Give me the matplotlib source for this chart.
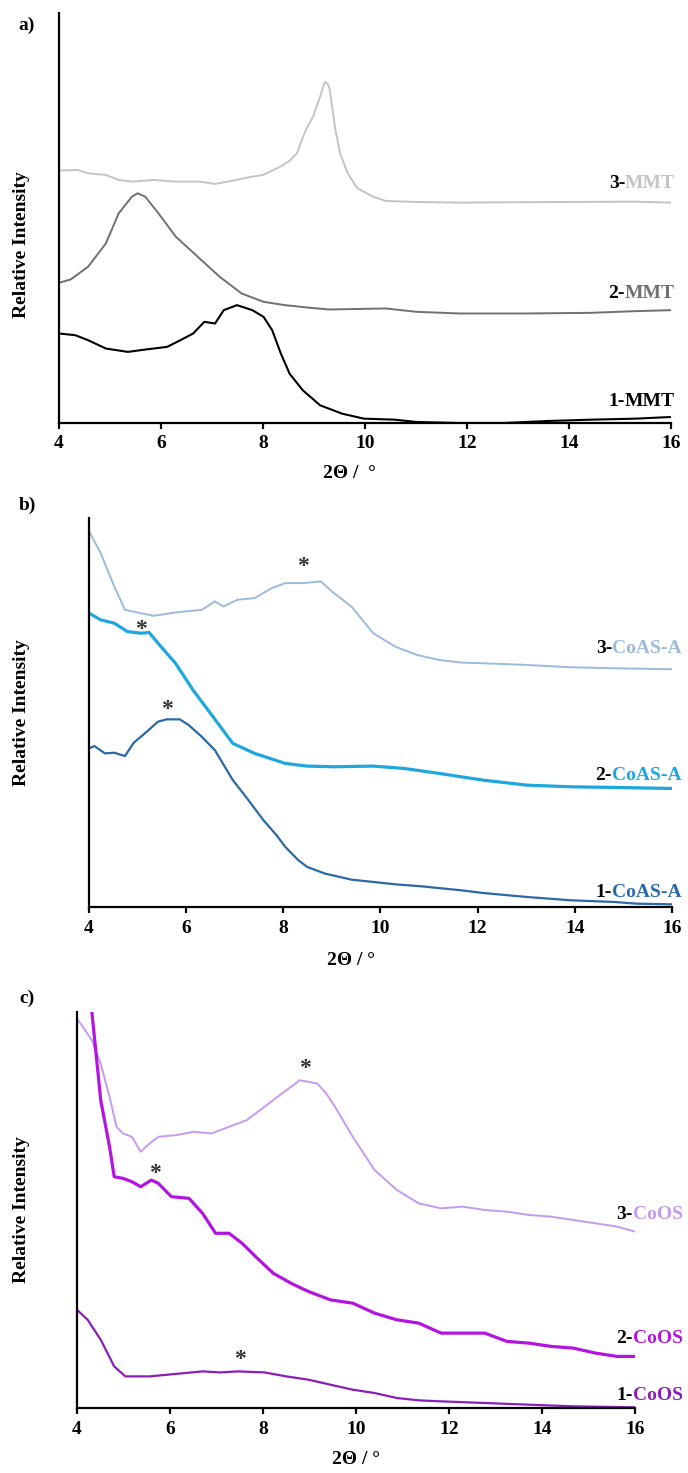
import matplotlib

matplotlib.use('Agg')
import matplotlib.pyplot as plt

plt.rcParams['font.family'] = ['Liberation Serif', 'DejaVu Serif']
plt.rcParams['font.weight'] = 'bold'

# ---------------- panel a) MMT ----------------
a3_x = [4.00, 4.36, 4.57, 4.92, 5.17, 5.43, 5.86, 6.29, 6.76, 7.06, 7.41, 7.75, 8.00, 8.33,
        8.53, 8.67, 8.76, 8.86, 8.98, 9.12, 9.18, 9.22, 9.27, 9.31, 9.41, 9.51, 9.65, 9.84,
        10.15, 10.41, 11.01, 11.86, 12.72, 14.01, 15.30, 16.00]
a3_y = [756, 758, 748, 743, 728, 723, 728, 723, 723, 716, 726, 737, 743, 767,
        786, 809, 848, 884, 917, 977, 1008, 1022, 1015, 998, 887, 809, 752, 704,
        678, 665, 662, 660, 661, 662, 663, 660]
a2_x = [4.00, 4.23, 4.57, 4.92, 5.17, 5.43, 5.54, 5.69, 5.95, 6.29, 6.72, 7.15, 7.58, 8.01,
        8.43, 8.86, 9.29, 10.41, 11.01, 11.86, 13.15, 14.44, 15.30, 16.00]
a2_y = [420, 430, 468, 538, 628, 678, 688, 678, 628, 558, 498, 438, 388, 363,
        353, 346, 340, 343, 333, 328, 328, 330, 335, 338]
a1_x = [4.00, 4.32, 4.57, 4.92, 5.35, 5.69, 6.12, 6.38, 6.63, 6.85, 7.06, 7.23, 7.49, 7.79,
        8.01, 8.18, 8.35, 8.52, 8.78, 9.12, 9.55, 9.98, 10.58, 11.01, 11.86, 12.72,
        13.58, 14.44, 15.30, 16.00]
a1_y = [268, 263, 248, 223, 213, 220, 228, 248, 268, 303, 298, 338, 353, 338,
        318, 278, 208, 148, 98, 53, 28, 13, 10, 3, 0, 0,
        6, 10, 13, 18]

# ---------------- panel b) CoAS-A ----------------
b3_x = [4.00, 4.24, 4.52, 4.74, 5.06, 5.33, 5.78, 6.32, 6.59, 6.77, 7.05, 7.41, 7.76, 8.04,
        8.40, 8.77, 9.04, 9.40, 9.85, 10.30, 10.75, 11.20, 11.66, 12.10, 13.00, 13.90,
        14.80, 16.00]
b3_y = [1125, 1060, 960, 890, 880, 872, 882, 890, 915, 900, 920, 925, 955, 970,
        970, 975, 940, 900, 820, 780, 755, 740, 732, 730, 725, 718,
        715, 712]
b2_x = [4.00, 4.24, 4.52, 4.79, 5.06, 5.24, 5.42, 5.78, 6.14, 6.50, 6.96, 7.41, 8.04, 8.49,
        9.04, 9.85, 10.48, 11.21, 12.11, 13.01, 13.92, 14.82, 16.00]
b2_y = [880, 860, 850, 825, 820, 822, 790, 730, 650, 580, 490, 460, 430, 422,
        420, 422, 415, 400, 380, 365, 360, 358, 355]
b1_x = [4.00, 4.11, 4.33, 4.52, 4.74, 4.92, 5.15, 5.42, 5.60, 5.87, 6.05, 6.32, 6.59, 6.96,
        7.23, 7.59, 7.86, 8.04, 8.31, 8.49, 8.86, 9.40, 9.85, 10.30, 10.84, 11.66,
        12.11, 13.01, 13.47, 13.92, 14.82, 15.27, 16.00]
b1_y = [475, 482, 460, 462, 452, 492, 520, 555, 562, 562, 545, 510, 470, 380,
        330, 260, 215, 180, 140, 120, 100, 82, 75, 68, 62, 50,
        42, 30, 25, 20, 15, 10, 8]

# ---------------- panel c) CoOS ----------------
c3_x = [4.00, 4.13, 4.32, 4.51, 4.70, 4.85, 4.99, 5.18, 5.37, 5.56, 5.75, 6.13, 6.51, 6.89,
        7.27, 7.65, 8.03, 8.31, 8.60, 8.79, 8.98, 9.17, 9.36, 9.55, 9.93, 10.40, 10.88,
        11.35, 11.83, 12.30, 12.77, 13.25, 13.72, 14.20, 14.67, 15.15, 15.62, 16.00]
c3_y = [1170, 1145, 1105, 1035, 935, 845, 825, 815, 770, 795, 815, 820, 830, 825,
        845, 865, 905, 935, 965, 985, 980, 975, 945, 905, 815, 715, 655,
        615, 600, 605, 595, 590, 580, 575, 565, 555, 545, 530]
c2_x = [4.28, 4.32, 4.51, 4.70, 4.80, 4.99, 5.18, 5.37, 5.60, 5.75, 6.03, 6.41, 6.70, 6.98,
        7.27, 7.55, 7.84, 8.22, 8.60, 8.98, 9.45, 9.93, 10.40, 10.88, 11.35, 11.83, 12.30,
        12.77, 13.25, 13.72, 14.20, 14.67, 15.15, 15.62, 16.00]
c2_y = [1400, 1190, 925, 785, 695, 690, 680, 665, 685, 675, 635, 630, 585, 525,
        525, 495, 455, 405, 375, 350, 325, 315, 285, 265, 255, 225, 225,
        225, 200, 195, 185, 180, 165, 155, 155]
c1_x = [4.00, 4.23, 4.51, 4.80, 5.04, 5.56, 5.94, 6.32, 6.70, 7.08, 7.46, 8.03, 8.50, 8.98,
        9.45, 9.93, 10.40, 10.88, 11.35, 11.83, 12.77, 13.72, 14.67, 16.00]
c1_y = [295, 265, 205, 125, 95, 95, 100, 105, 110, 107, 110, 107, 95, 85,
        70, 55, 45, 30, 23, 20, 15, 10, 5, 2]

xticks = [4, 6, 8, 10, 12, 14, 16]

W, H = 688, 1473
FS = 14
fig = plt.figure(figsize=(W / 100, H / 100), dpi=100)


def make_axes(left, right, top, bottom):
    # pixel box -> figure fraction
    return fig.add_axes([left / W, 1 - bottom / H, (right - left) / W, (bottom - top) / H])


def style(ax, ymax, xlab, xlab_pos):
    ax.set_xlim(4, 16)
    ax.set_ylim(0, ymax)
    ax.set_xticks(xticks)
    ax.set_yticks([])
    for s in ['top', 'right']:
        ax.spines[s].set_visible(False)
    for s in ['left', 'bottom']:
        ax.spines[s].set_linewidth(1.6)
    ax.tick_params(axis='x', direction='out', length=4, width=1.6, pad=5, labelsize=FS)
    for lab in ax.get_xticklabels():
        lab.set_fontweight('bold')
    ax.set_xlabel(xlab, fontsize=FS, fontweight='bold', va='center')
    ax.xaxis.set_label_coords(*xlab_pos)


def curve_label(ax, x, y, num, name, color):
    t = ax.text(x, y, name, color=color, fontsize=FS, fontweight='bold',
                ha='right', va='center', clip_on=False)
    ax.annotate(num, xy=(0, 0.5), xycoords=t, ha='right', va='center',
                fontsize=FS, fontweight='bold', color='black')


def star(ax, x, y):
    ax.text(x, y, '*', fontsize=17, fontweight='bold', ha='center', va='center', color='#333333')


# panel a
ax = make_axes(59, 671, 13, 423)
ax.plot(a3_x, a3_y, color='#c4c4c4', lw=1.4)
ax.plot(a2_x, a2_y, color='#707070', lw=1.4)
ax.plot(a1_x, a1_y, color='black', lw=1.5)
style(ax, 1228, '2Θ /  °', (0.475, -50 / 410))
curve_label(ax, 16.08, 718, '3-', 'MMT', '#c4c4c4')
curve_label(ax, 16.08, 388, '2-', 'MMT', '#707070')
curve_label(ax, 16.08, 63, '1-', 'MMT', 'black')

# panel b
ax = make_axes(89, 672, 518, 907)
ax.plot(b3_x, b3_y, color='#9dbadb', lw=1.4)
ax.plot(b2_x, b2_y, color='#1ea7de', lw=2.3)
ax.plot(b1_x, b1_y, color='#2a69a8', lw=1.6)
style(ax, 1165, '2Θ / °', (0.449, -53 / 389))
star(ax, 8.4, 1020)
star(ax, 5.06, 832)
star(ax, 5.6, 592)
curve_label(ax, 16.2, 775, '3-', 'CoAS-A', '#9dbadb')
curve_label(ax, 16.2, 395, '2-', 'CoAS-A', '#1ea7de')
curve_label(ax, 16.2, 42, '1-', 'CoAS-A', '#2a69a8')

# panel c
ax = make_axes(77, 635, 1012, 1408)
ax.plot(c3_x, c3_y, color='#c49bf0', lw=1.4)
ax.plot(c2_x, c2_y, color='#b414e0', lw=2.3)
ax.plot(c1_x, c1_y, color='#8a1eb8', lw=1.6)
style(ax, 1190, '2Θ / °', (0.5, -52 / 396))
star(ax, 8.91, 1020)
star(ax, 5.67, 705)
star(ax, 7.5, 145)
curve_label(ax, 17.03, 580, '3-', 'CoOS', '#c49bf0')
curve_label(ax, 17.03, 210, '2-', 'CoOS', '#b414e0')
curve_label(ax, 17.03, 37, '1-', 'CoOS', '#8a1eb8')

# y labels and panel letters
for yc in [245, 713, 1210]:
    fig.text(22 / W, 1 - yc / H, 'Relative Intensity', rotation=90, fontsize=FS,
             fontweight='bold', ha='center', va='center')
for lab, yc in [('a)', 25), ('b)', 505), ('c)', 998)]:
    fig.text(27 / W, 1 - yc / H, lab, fontsize=FS, fontweight='bold', ha='center', va='center')

fig.savefig('out.png', dpi=100)
plt.close(fig)
